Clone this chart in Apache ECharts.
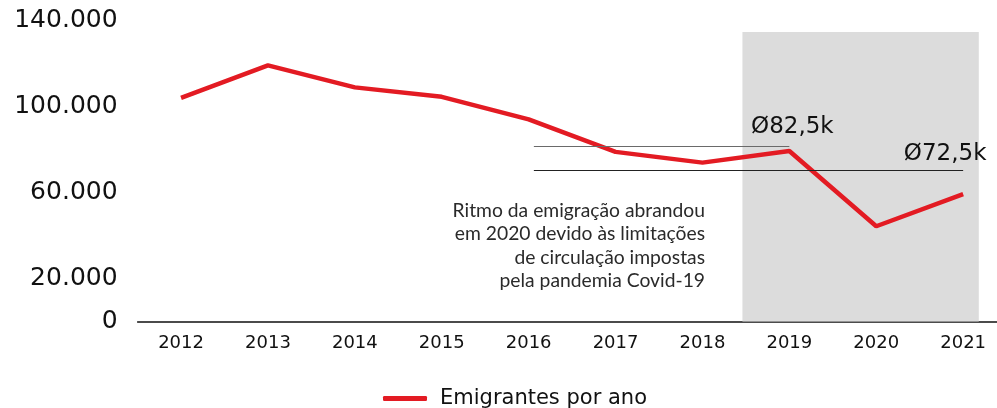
<!DOCTYPE html>
<html>
<head>
<meta charset="utf-8">
<script src="https://cdn.jsdelivr.net/npm/echarts@6/dist/echarts.min.js"></script>
<style>
  html, body { margin: 0; padding: 0; background: #fff; }
  #chart { width: 997px; height: 408px; }
</style>
</head>
<body>
<div id="chart"></div>
<script>
// values
const years = ["2012", "2013", "2014", "2015", "2016", "2017", "2018", "2019", "2020", "2021"];
const emigrants = [104000, 119100, 108900, 104500, 94000, 78900, 73900, 79300, 44300, 59200];
const shownTicks = [0, 20000, 60000, 100000, 140000];
const avgLines = [
  { text: "Ø82,5k", value: 81700, from: 4.06, to: 7.0, color: "#6a6a6a" },
  { text: "Ø72,5k", value: 70400, from: 4.06, to: 9.0, color: "#222" }
];
const shadeFrom = 6.46, shadeTo = 9.18, shadeTop = 134600;
const noteLines = [
  "Ritmo da emigração abrandou",
  "em 2020 devido às limitações",
  "de circulação impostas",
  "pela pandemia Covid-19"
];

const fmt = function(v) {
  return String(v).replace(/\B(?=(\d{3})+(?!\d))/g, ".");
};

const chart = echarts.init(document.getElementById("chart"));

const option = {
  animation: false,
  grid: {
    left: 137.6,
    width: 869,
    top: 20.5,
    bottom: 86.5,
    containLabel: false,
    outerBoundsMode: "none"
  },
  legend: {
    data: ["Emigrantes por ano"],
    left: 378,
    top: 383,
    icon: "roundRect",
    itemWidth: 44,
    itemHeight: 5,
    textStyle: {
      fontFamily: "DejaVu Sans",
      fontSize: 21,
      color: "#111",
      padding: [0, 0, 0, 8]
    }
  },
  xAxis: [
    {
      type: "category",
      data: years,
      boundaryGap: true,
      axisLine: { lineStyle: { color: "#111", width: 1.5 } },
      axisTick: { show: false },
      axisLabel: {
        margin: 13,
        fontFamily: "DejaVu Sans",
        fontSize: 18,
        color: "#111"
      }
    },
    { type: "value", min: -0.5, max: 9.5, show: false }
  ],
  yAxis: {
    type: "value",
    min: 0,
    max: 140000,
    interval: 20000,
    splitLine: { show: false },
    axisLine: { show: false },
    axisTick: { show: false },
    axisLabel: {
      margin: 20,
      fontFamily: "DejaVu Sans",
      fontSize: 25,
      color: "#111",
      formatter: function(v) {
        return shownTicks.includes(v) ? fmt(v) : "";
      }
    }
  },
  graphic: noteLines.map(function(t, i) {
    return {
      type: "text",
      right: 997 - 705,
      top: 201 + i * 23.5,
      style: {
        text: t,
        fontFamily: "Lato",
        fontWeight: 400,
        fontSize: 19.3,
        fill: "#2a2a2a",
        textAlign: "right"
      }
    };
  }),
  series: [
    {
      name: "marks",
      type: "line",
      xAxisIndex: 1,
      data: [],
      silent: true,
      z: 1,
      markArea: {
        silent: true,
        itemStyle: { color: "#dcdcdc" },
        data: [[{ coord: [shadeFrom, 0] }, { coord: [shadeTo, shadeTop] }]]
      }
    },
    {
      name: "Emigrantes por ano",
      type: "line",
      data: emigrants,
      symbol: "none",
      z: 3,
      color: "#e31b23",
      lineStyle: { color: "#e31b23", width: 4.5 }
    },
    {
      name: "avg",
      type: "line",
      xAxisIndex: 1,
      data: [],
      silent: true,
      z: 4,
      markLine: {
        silent: true,
        symbol: ["none", "none"],
        label: { show: false },
        data: avgLines.map(function(a) {
          return [
            { coord: [a.from, a.value], lineStyle: { color: a.color, width: 1, type: "solid" } },
            { coord: [a.to, a.value] }
          ];
        })
      },
      markPoint: {
        silent: true,
        symbol: "circle",
        symbolSize: 0,
        label: {
          show: true,
          position: "top",
          fontFamily: "DejaVu Sans",
          fontSize: 23,
          color: "#111"
        },
        data: [
          { coord: [avgLines[0].to, avgLines[0].value], value: avgLines[0].text, label: { formatter: avgLines[0].text, distance: 7, offset: [3, 0] } },
          { coord: [avgLines[1].to, avgLines[1].value], value: avgLines[1].text, label: { formatter: avgLines[1].text, distance: 5, offset: [-18, 0] } }
        ]
      }
    }
  ]
};

chart.setOption(option);
window.onresize = function() {
  chart.resize();
};
</script>
</body>
</html>
